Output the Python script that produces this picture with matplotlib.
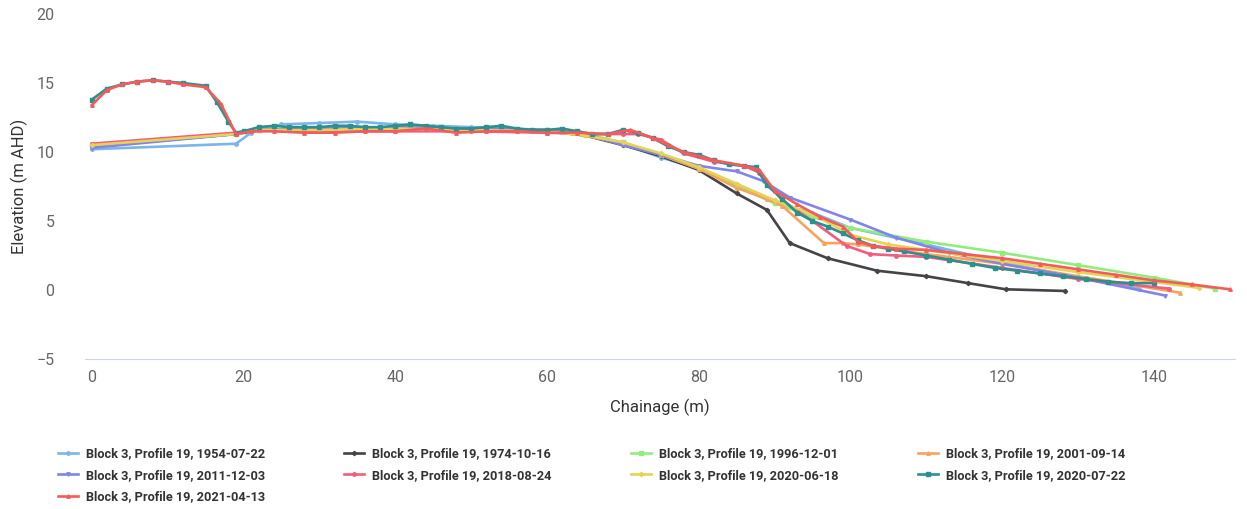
import numpy as np
import matplotlib
matplotlib.use("Agg")
import matplotlib.pyplot as plt

plt.rcParams['font.family'] = ['Roboto', 'DejaVu Sans']

# profile surveys (chainage m, elevation m AHD)
labels = ["Block 3, Profile 19, 1954-07-22", "Block 3, Profile 19, 1974-10-16",
          "Block 3, Profile 19, 1996-12-01", "Block 3, Profile 19, 2001-09-14",
          "Block 3, Profile 19, 2011-12-03", "Block 3, Profile 19, 2018-08-24",
          "Block 3, Profile 19, 2020-06-18", "Block 3, Profile 19, 2020-07-22",
          "Block 3, Profile 19, 2021-04-13"]

x1954 = [0, 19, 21, 25, 30, 35, 40, 45, 50, 55, 60, 65, 70, 75, 80, 85, 90, 95, 100, 110, 120, 130, 138]
y1954 = [10.2, 10.6, 11.4, 12.0, 12.1, 12.2, 12.0, 11.9, 11.8, 11.7, 11.6, 11.3, 10.6, 9.6, 8.8, 7.6, 6.3, 5.6, 4.5, 3.3, 2.0, 0.9, 0.1]

x1974 = [0, 19, 22, 30, 40, 50, 60, 65, 70, 75, 80, 85, 89, 92, 97, 103.5, 110, 115.5, 120.5, 128.3]
y1974 = [10.4, 11.3, 11.6, 11.6, 11.7, 11.6, 11.5, 11.2, 10.5, 9.7, 8.7, 7.0, 5.8, 3.4, 2.3, 1.4, 1.0, 0.5, 0.05, -0.07]

x1996 = [0, 19, 22, 30, 40, 50, 60, 65, 70, 75, 80, 85, 90, 95, 100, 110, 120, 130, 140, 148]
y1996 = [10.5, 11.3, 11.6, 11.7, 11.8, 11.7, 11.6, 11.3, 10.7, 9.8, 8.8, 7.5, 6.3, 5.3, 4.5, 3.5, 2.7, 1.8, 0.9, 0.1]

x2001 = [0, 19, 22, 30, 40, 50, 60, 65, 70, 75, 80, 85, 89, 91, 96.5, 99, 101, 110, 120, 130, 143.5]
y2001 = [10.5, 11.3, 11.6, 11.6, 11.7, 11.6, 11.5, 11.2, 10.6, 9.8, 8.8, 7.4, 6.6, 6.1, 3.4, 3.4, 3.3, 2.6, 1.9, 1.0, -0.2]

x2011 = [0, 19, 22, 30, 40, 50, 60, 65, 70, 75, 80, 85, 88.5, 92, 100, 106, 113, 120, 130, 141.5]
y2011 = [10.3, 11.3, 11.6, 11.7, 11.8, 11.7, 11.6, 11.3, 10.5, 9.8, 9.0, 8.6, 7.9, 6.7, 5.1, 3.8, 2.7, 1.9, 0.9, -0.4]

x2018 = [0, 19, 22, 30, 40, 50, 60, 65, 70, 72, 75, 78, 82, 86, 88, 91, 95, 99.5, 102.6, 106, 110, 120, 130, 142]
y2018 = [10.6, 11.4, 11.6, 11.5, 11.5, 11.5, 11.4, 11.3, 11.3, 11.3, 10.9, 9.9, 9.3, 9.0, 8.5, 6.5, 5.0, 3.2, 2.6, 2.5, 2.4, 1.6, 0.8, 0.1]

x2020a = [0, 19, 22, 30, 40, 50, 60, 65, 70, 75, 80, 85, 90, 95, 100, 105, 110, 120, 130, 146]
y2020a = [10.5, 11.3, 11.6, 11.6, 11.7, 11.6, 11.5, 11.2, 10.7, 9.9, 8.9, 7.7, 6.5, 5.5, 4.0, 3.3, 2.9, 2.1, 1.3, 0.15]

x2020b = [0, 2, 4, 6, 8, 10, 12, 15, 16.5, 18, 19, 20, 22, 24, 26, 28, 30, 32, 34, 36, 38, 40, 42, 44, 46, 48,
          50, 52, 54, 56, 58, 60, 62, 64, 66, 68, 70, 72, 74, 76, 78, 80, 82, 84, 86, 87.5, 89, 91, 93, 95, 97,
          99, 101, 103, 105, 107, 110, 113, 116, 119, 122, 125, 128, 131, 134, 137, 140]
y2020b = [13.8, 14.6, 14.9, 15.1, 15.2, 15.1, 15.0, 14.8, 13.6, 12.2, 11.4, 11.5, 11.8, 11.9, 11.8, 11.8, 11.8,
          11.9, 11.9, 11.8, 11.8, 11.9, 12.0, 11.9, 11.8, 11.7, 11.7, 11.8, 11.9, 11.7, 11.6, 11.6, 11.7, 11.5,
          11.3, 11.3, 11.6, 11.4, 11.0, 10.4, 10.0, 9.8, 9.4, 9.1, 9.0, 8.9, 7.6, 6.6, 5.6, 5.0, 4.6, 4.1, 3.6,
          3.2, 3.0, 2.8, 2.5, 2.2, 1.9, 1.6, 1.4, 1.2, 1.0, 0.8, 0.6, 0.5, 0.5]

x2021 = [0, 2, 4, 6, 8, 10, 12, 15, 17, 19, 21, 24, 28, 32, 36, 40, 44, 48, 52, 56, 60, 64, 68, 71, 74, 76,
         78, 82, 86, 88, 90, 93, 96, 99, 101, 103, 106, 110, 115, 120, 125, 130, 135, 140, 145, 150]
y2021 = [13.4, 14.5, 14.9, 15.1, 15.2, 15.1, 14.9, 14.7, 13.5, 11.3, 11.5, 11.5, 11.4, 11.4, 11.5, 11.5, 11.7,
         11.4, 11.5, 11.5, 11.4, 11.4, 11.3, 11.6, 11.0, 10.5, 10.0, 9.4, 9.0, 8.7, 7.2, 6.2, 5.3, 4.6, 3.5,
         3.2, 3.0, 2.9, 2.6, 2.3, 1.9, 1.5, 1.1, 0.7, 0.4, 0.05]

xs = [x1954, x1974, x1996, x2001, x2011, x2018, x2020a, x2020b, x2021]
ys = [y1954, y1974, y1996, y2001, y2011, y2018, y2020a, y2020b, y2021]
colors = ['#7cb5ec', '#434348', '#90ed7d', '#f7a35c', '#8085e9',
          '#f15c80', '#e4d354', '#2b908f', '#f45b5b']
markers = ['o', 'D', 's', '^', 'v', 'o', 'D', 's', '^']
msizes = [2.5, 2.2, 2.2, 2.5, 2.5, 2.5, 2.2, 2.6, 2.5]

fig = plt.figure(figsize=(12.47, 5.09), dpi=100)
ax = fig.add_axes([85 / 1247, 1 - 359 / 509, 1150 / 1247, 345 / 509])

handles = []
for x, y, c, m, ms, lab in zip(xs, ys, colors, markers, msizes, labels):
    h, = ax.plot(x, y, color=c, lw=1.9, marker=m, markersize=ms, label=lab)
    handles.append(h)

ax.set_xlim(-0.9, 150.7)
ax.set_ylim(-5, 20)
ax.set_xticks(np.arange(0, 141, 20))
ax.set_yticks(np.arange(-5, 21, 5))
ax.set_yticklabels(['\u22125', '0', '5', '10', '15', '20'])
for s in ['top', 'right', 'left']:
    ax.spines[s].set_visible(False)
ax.spines['bottom'].set_color('#ccd6eb')
ax.tick_params(axis='y', length=0, pad=22, labelsize=11.5, labelcolor='#666666')
ax.tick_params(axis='x', length=0, pad=8, labelsize=11.5, labelcolor='#666666')
ax.set_xlabel('Chainage (m)', fontsize=12, color='#333333', labelpad=10)
ax.set_ylabel('Elevation (m AHD)', fontsize=12, color='#333333', labelpad=6)

# legend rows: fill order row-wise in reference -> column-wise reorder
order = [0, 4, 8, 1, 5, 2, 6, 3, 7]
leg = fig.legend([handles[i] for i in order], [labels[i] for i in order],
                 loc='upper left', bbox_to_anchor=(46 / 1247, 1 - 436 / 509),
                 ncol=4, frameon=False, handlelength=1.6, handletextpad=0.6,
                 columnspacing=6.2, labelspacing=0.65, borderpad=0.4,
                 prop={'weight': 'bold', 'size': 9.2})
for t in leg.get_texts():
    t.set_color('#333333')

fig.savefig('out.png', dpi=100)
